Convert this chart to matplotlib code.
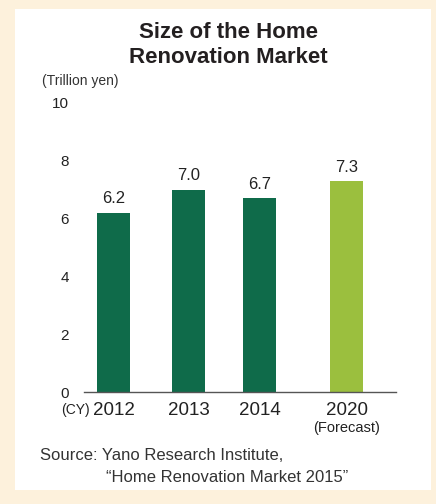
import matplotlib
matplotlib.use("Agg")
import matplotlib.pyplot as plt
from matplotlib.patches import Rectangle

plt.rcParams['font.family'] = ['Liberation Sans', 'DejaVu Sans']

years = ['2012', '2013', '2014', '2020']
values = [6.2, 7.0, 6.7, 7.3]
positions = [0, 1, 1.95, 3.11]
bar_colors = ['#0f6b4a', '#0f6b4a', '#0f6b4a', '#9bbf3e']
yticks = [0, 2, 4, 6, 8, 10]

W, H = 436, 504
fig = plt.figure(figsize=(W / 100, H / 100), dpi=100)
fig.patch.set_facecolor('#fdf1dc')
fig.patches.append(Rectangle((15 / W, 1 - 490 / H), 416 / W, 481 / H,
                             transform=fig.transFigure, facecolor='white',
                             edgecolor='none', zorder=-10))

ax = fig.add_axes([84 / W, 1 - 392 / H, 312 / W, 289 / H])
ax.set_facecolor('none')
ax.bar(positions, values, width=0.44, color=bar_colors, zorder=2)
for x, v in zip(positions, values):
    ax.text(x, v + 0.22, f'{v:.1f}', ha='center', va='bottom', fontsize=12, color='#222222')

ax.set_xlim(-0.393, 3.767)
ax.set_ylim(0, 10)
ax.set_yticks(yticks)
ax.set_yticklabels([str(t) for t in yticks], fontsize=11, color='#222222')
ax.tick_params(axis='y', length=0, pad=11)
ax.set_xticks([])
for s in ['top', 'right', 'left']:
    ax.spines[s].set_visible(False)
ax.spines['bottom'].set_color('#555555')
ax.spines['bottom'].set_linewidth(1.0)

# x labels
for x, yr in zip(positions, years):
    ax.text(x, -0.35, yr, ha='center', va='top', fontsize=13.5, color='#222222')
ax.text(positions[3], -1.0, '(Forecast)', ha='center', va='top', fontsize=10.5, color='#222222')
ax.text(-0.32, -0.38, '(CY)', ha='right', va='top', fontsize=10, color='#222222')

fig.text(228 / W, 1 - 45 / H, 'Size of the Home\nRenovation Market', ha='center', va='center',
         fontsize=16, fontweight='bold', color='#231f20', linespacing=1.2)
fig.text(42 / W, 1 - 81 / H, '(Trillion yen)', ha='left', va='center', fontsize=10,
         color='#333333')
fig.text(40 / W, 1 - 455 / H, 'Source: Yano Research Institute,', ha='left', va='center',
         fontsize=12, color='#333333')
fig.text(106 / W, 1 - 477 / H, '\u201cHome Renovation Market 2015\u201d', ha='left', va='center',
         fontsize=12, color='#333333')

fig.savefig('out.png', dpi=100, facecolor=fig.get_facecolor())
